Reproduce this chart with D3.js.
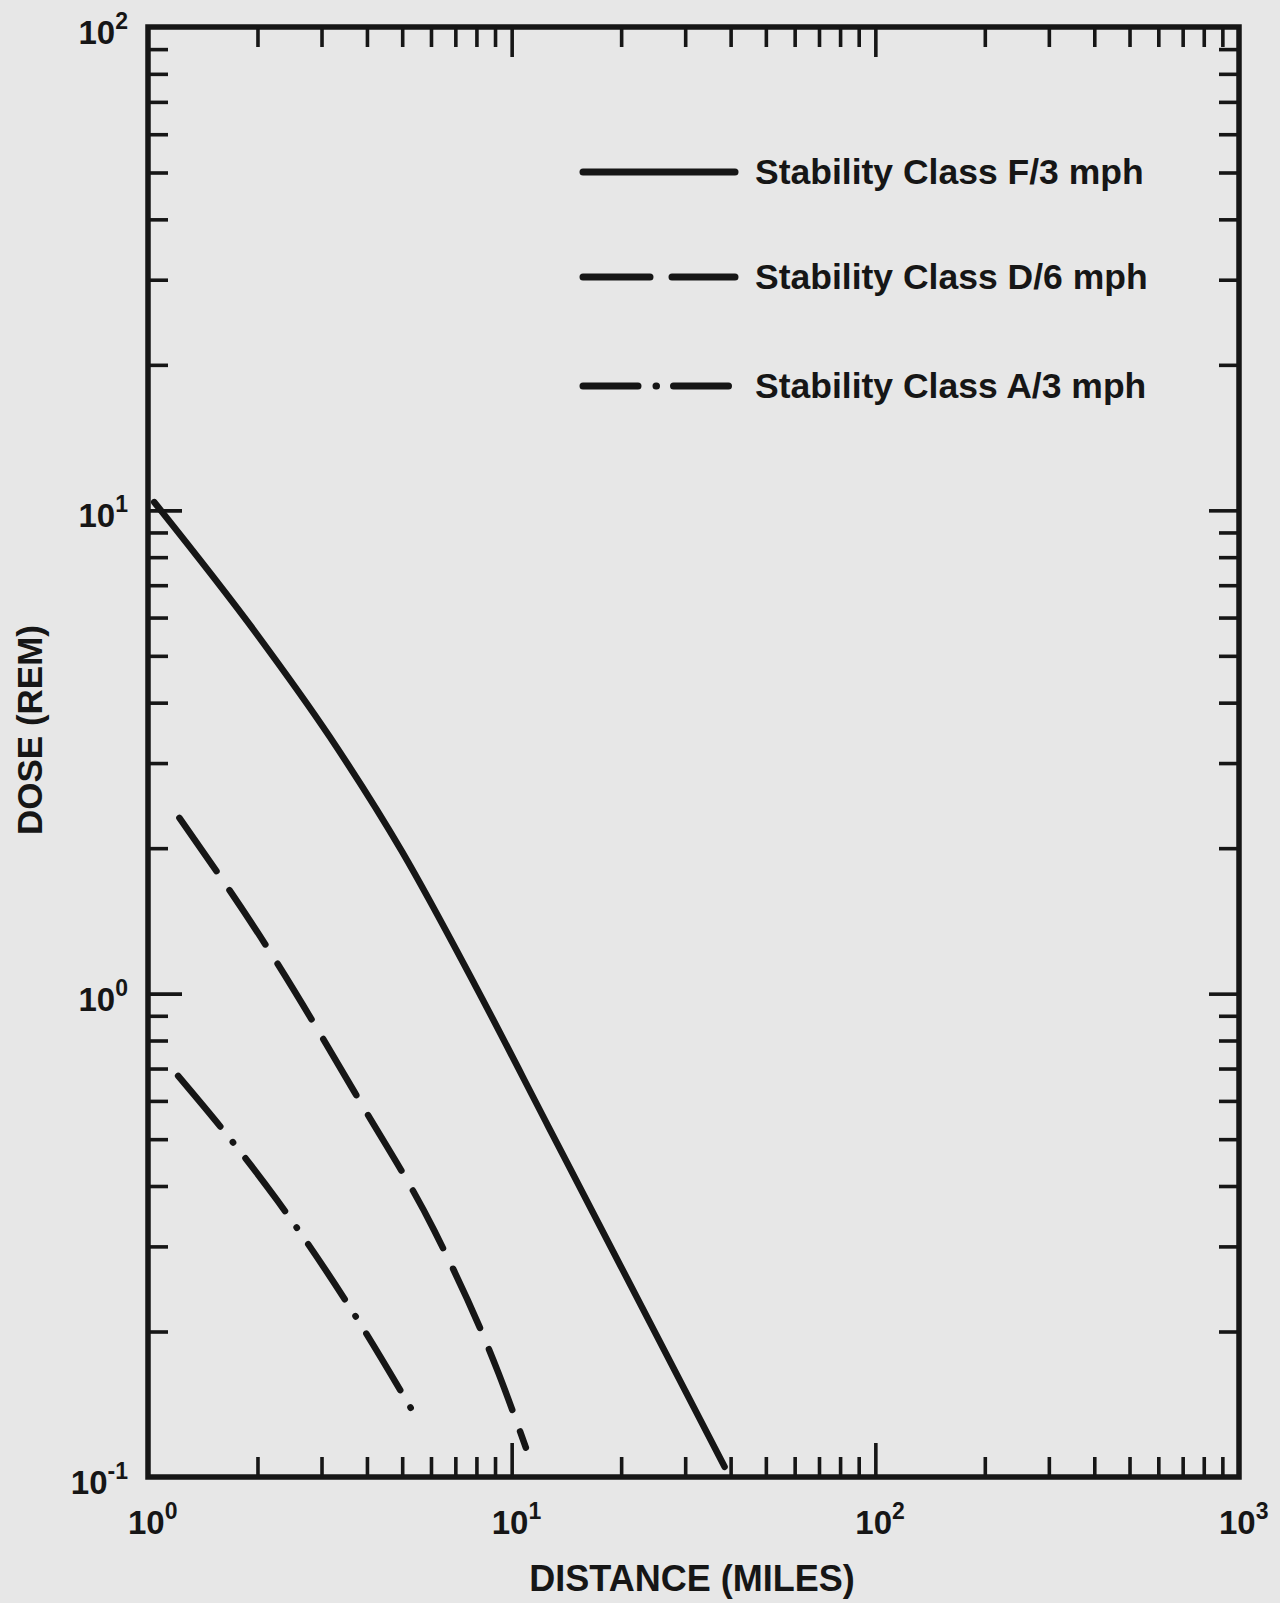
<!DOCTYPE html>
<html>
<head>
<meta charset="utf-8">
<script src="https://cdn.jsdelivr.net/npm/d3@7"></script>
<style>
  html, body { margin: 0; padding: 0; background: #e7e7e7; }
  svg { display: block; }
  text { font-family: "Liberation Sans", Arial, sans-serif; font-weight: bold; fill: #161616; }
</style>
</head>
<body>
<div class="bg"></div>
<script>
// curves (distance in miles, dose in rem)
const distF = [1.04, 2.0, 3.16, 5.01, 7.94, 12.6, 19.95, 38.5];
const doseF = [10.4, 5.52, 3.40, 1.96, 1.04, 0.532, 0.273, 0.105];

const distD = [1.22, 2.13, 3.85, 6.12, 9.2, 10.94];
const doseD = [2.31, 1.245, 0.594, 0.324, 0.164, 0.115];

const distA = [1.21, 1.63, 2.27, 3.61, 5.4];
const doseA = [0.676, 0.516, 0.373, 0.223, 0.135];

const legendLabels = ["Stability Class F/3 mph", "Stability Class D/6 mph", "Stability Class A/3 mph"];

const xMajor = [1, 10, 100, 1000];
const xExp = ["0", "1", "2", "3"];
const yMajor = [100, 10, 1, 0.1];
const yExp = ["2", "1", "0", "-1"];

const W = 1280, H = 1603;
const margin = { top: 27, right: 41, bottom: 126, left: 148 };
const width = W - margin.left - margin.right;
const height = H - margin.top - margin.bottom;

const svg = d3.select(".bg").append("svg")
  .attr("width", W)
  .attr("height", H);

const g = svg.append("g")
  .attr("transform", "translate(" + margin.left + "," + margin.top + ")");

const x = d3.scaleLog().domain([1, 1000]).range([0, width]);
const y = d3.scaleLog().domain([0.1, 100]).range([height, 0]);

// minor ticks 2..9 of every decade
function minors(lo, hi) {
  const out = [];
  for (let d = lo; d < hi; d *= 10)
    for (let k = 2; k <= 9; k++) out.push(d * k);
  return out;
}
const xMinor = minors(1, 1000);
const yMinor = minors(0.1, 100);

const ink = "#161616";

function styleAxis(sel) {
  sel.select(".domain").remove();
  sel.selectAll(".tick line").attr("stroke", ink).attr("stroke-width", 3.6);
  sel.selectAll(".tick text").remove();
}

// ticks point inward on all four sides
g.append("g").attr("transform", "translate(0," + height + ")")
  .call(d3.axisBottom(x).tickValues(xMinor).tickSize(-20)).call(styleAxis);
g.append("g").attr("transform", "translate(0," + height + ")")
  .call(d3.axisBottom(x).tickValues([10, 100]).tickSize(-34)).call(styleAxis);
g.append("g")
  .call(d3.axisTop(x).tickValues(xMinor).tickSize(-20)).call(styleAxis);
g.append("g")
  .call(d3.axisTop(x).tickValues([10, 100]).tickSize(-30)).call(styleAxis);

g.append("g")
  .call(d3.axisLeft(y).tickValues(yMinor).tickSize(-20)).call(styleAxis);
g.append("g")
  .call(d3.axisLeft(y).tickValues([10, 1]).tickSize(-34)).call(styleAxis);
g.append("g").attr("transform", "translate(" + width + ",0)")
  .call(d3.axisRight(y).tickValues(yMinor).tickSize(-20)).call(styleAxis);
g.append("g").attr("transform", "translate(" + width + ",0)")
  .call(d3.axisRight(y).tickValues([10, 1]).tickSize(-30)).call(styleAxis);

// frame
g.append("rect")
  .attr("width", width).attr("height", height)
  .attr("fill", "none").attr("stroke", ink).attr("stroke-width", 5.5);

// tick labels as 10 with a superscript
xMajor.forEach((v, i) => {
  const t = g.append("text")
    .attr("x", x(v) - 20).attr("y", height + 57)
    .attr("font-size", 33);
  t.append("tspan").text("10");
  t.append("tspan").attr("font-size", 23).attr("dy", -15).text(xExp[i]);
});

yMajor.forEach((v, i) => {
  const t = g.append("text")
    .attr("x", -20).attr("y", y(v) + 17)
    .attr("text-anchor", "end")
    .attr("font-size", 33);
  t.append("tspan").text("10");
  t.append("tspan").attr("font-size", 23).attr("dy", -15).text(yExp[i]);
});

// axis titles
svg.append("text")
  .attr("x", 692).attr("y", H - 12)
  .attr("text-anchor", "middle").attr("font-size", 36)
  .text("DISTANCE (MILES)");

svg.append("text")
  .attr("transform", "translate(42,730) rotate(-90)")
  .attr("text-anchor", "middle").attr("font-size", 35)
  .text("DOSE (REM)");

// the three curves
const line = d3.line()
  .x(d => x(d[0]))
  .y(d => y(d[1]))
  .curve(d3.curveMonotoneX);

const series = [
  { dist: distF, dose: doseF, dash: null },
  { dist: distD, dose: doseD, dash: "65,23" },
  { dist: distA, dose: doseA, dash: "66,20,0.5,20" }
];

series.forEach(s => {
  g.append("path")
    .datum(s.dist.map((d, i) => [d, s.dose[i]]))
    .attr("d", line)
    .attr("fill", "none")
    .attr("stroke", ink)
    .attr("stroke-width", 6.5)
    .attr("stroke-linecap", "round")
    .attr("stroke-dasharray", s.dash);
});

// legend
const legendDash = [null, "67,22", "55,18,0.5,17"];
const legendY = [172, 277, 386];
legendLabels.forEach((lab, i) => {
  svg.append("line")
    .attr("x1", 583).attr("x2", 735)
    .attr("y1", legendY[i]).attr("y2", legendY[i])
    .attr("stroke", ink).attr("stroke-width", 7)
    .attr("stroke-linecap", "round")
    .attr("stroke-dasharray", legendDash[i]);
  svg.append("text")
    .attr("x", 755).attr("y", legendY[i] + 12)
    .attr("font-size", 35.5)
    .text(lab);
});
</script>
</body>
</html>
